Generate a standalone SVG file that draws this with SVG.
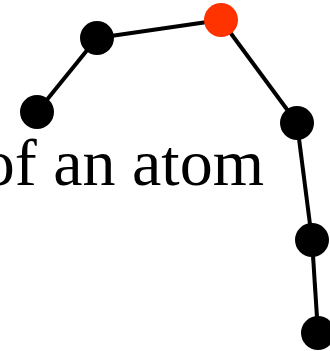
<svg xmlns="http://www.w3.org/2000/svg" width="330" height="351" viewBox="0 0 330 351">
<style>
.edge{stroke:#000;stroke-width:4;fill:none}
.dot{fill:#000}
.hot{fill:#FF3300}
.lbl{font-family:"Liberation Serif","Times New Roman",serif;font-size:66px;fill:#000}
</style>
<rect width="330" height="351" fill="#fff"/>
<g id="connectors">
<line class="edge" x1="37" y1="112" x2="97" y2="38"/>
<line class="edge" x1="97" y1="38" x2="221" y2="20"/>
<line class="edge" x1="221" y1="20" x2="297" y2="123"/>
<line class="edge" x1="297" y1="123" x2="312" y2="240"/>
<line class="edge" x1="312" y1="240" x2="318" y2="333"/>
</g>
<g id="label"><text class="lbl" x="264" y="185" text-anchor="end">of an atom</text></g>
<g id="n1"><circle class="dot" cx="37" cy="112" r="17"/></g>
<g id="n2"><circle class="dot" cx="97" cy="38" r="17"/></g>
<g id="n3"><circle class="hot" cx="221" cy="20" r="17"/></g>
<g id="n4"><circle class="dot" cx="297" cy="123" r="17"/></g>
<g id="n5"><circle class="dot" cx="312" cy="240" r="17"/></g>
<g id="n6"><circle class="dot" cx="318" cy="333" r="17"/></g>
</svg>
